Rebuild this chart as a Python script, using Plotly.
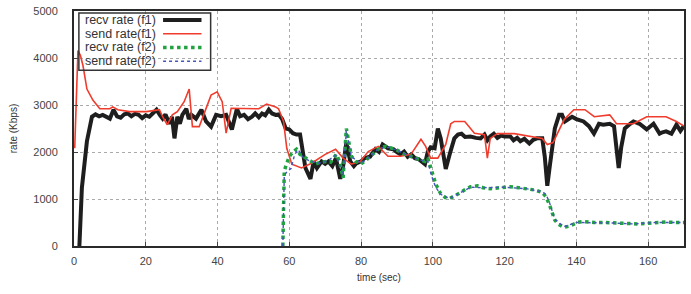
import plotly.graph_objects as go

# recv rate (f1)
t_recv1 = [1.5, 2.2, 3.6, 5, 6, 7, 8, 9, 10, 11, 12, 13, 14, 15, 16, 17, 18, 19, 20, 21, 22, 23, 24, 24.7,
           25.5, 26.6, 27.3, 28, 28.8, 29.5, 30.2, 31.3, 32, 32.7, 34, 35.5, 36.8, 38.2, 39.6, 41, 42.4, 43,
           44, 45.4, 46.3, 47.4, 48.5, 49.6, 50.5, 51.5, 52.4, 53.3, 54.3, 55.2, 56.2, 57, 58, 59, 60, 61, 62,
           63, 64.5, 65.9, 66.8, 67.7, 69, 70, 70.9, 72, 73, 74.2, 75, 75.9, 77, 78, 78.7, 80, 81, 82.5, 84,
           85, 86, 87.5, 89, 90, 91, 92, 93, 94, 95, 96, 96.7, 97.8, 98.6, 99.4, 100.5, 101.4, 102.2, 103.6,
           104.7, 106, 107, 108, 109, 110.5, 112, 113.3, 114.4, 115.2, 116, 117, 118, 119, 120, 121.6, 122.5,
           123.5, 124.4, 125.5, 126.9, 128, 129, 130.5, 131.2, 131.9, 132.6, 133.2, 134, 135.2, 136, 136.8,
           137.8, 138.8, 140, 141, 142, 143.5, 144.9, 146.3, 147.5, 149.3, 150.5, 151.3, 151.8, 152.5, 153.5,
           155, 155.9, 157.6, 159.6, 161.5, 163.2, 164, 165, 166.5, 167.9, 169, 170]
v_recv1 = [0, 1240, 2230, 2750, 2800, 2760, 2790, 2740, 2710, 2900, 2760, 2730, 2800, 2820, 2760, 2810, 2790,
           2720, 2780, 2750, 2840, 2900, 2780, 2710, 2800, 2600, 2750, 2290, 2750, 2600, 2790, 2920, 2700, 2790,
           2710, 2900, 2650, 2540, 2790, 2760, 2790, 2650, 2480, 2920, 2760, 2790, 2700, 2750, 2820, 2740, 2820,
           2780, 2900, 2820, 2790, 2800, 2700, 2500, 2480, 2400, 2370, 2370, 1660, 1430, 1800, 1660, 1800, 1750,
           1800, 1700, 1870, 1430, 1700, 2200, 1800, 1700, 1760, 1800, 1870, 1900, 2060, 2000, 2160, 2080, 2060,
           2000, 1950, 2010, 1900, 1950, 1870, 1850, 1800, 1740, 2010, 2100, 2080, 2500, 2290, 1640, 1950, 2290,
           2370, 2390, 2320, 2330, 2300, 2290, 2370, 2250, 2330, 2390, 2300, 2350, 2330, 2330, 2250, 2300, 2230,
           2280, 2180, 2260, 2290, 2290, 1900, 1280, 1700, 2080, 2500, 2790, 2790, 2650, 2700, 2750, 2700, 2680,
           2650, 2550, 2390, 2600, 2580, 2600, 2550, 2000, 1660, 2100, 2500, 2600, 2650, 2600, 2480, 2600, 2390,
           2420, 2440, 2390, 2580, 2450, 2560]

# send rate(f1)
t_send1 = [0.2, 1.1, 1.8, 2.5, 3.6, 5.3, 7.2, 10, 10.8, 12.2, 15.5, 20.2, 23.8, 24.7, 26, 27.4, 28.8, 30.7,
           32.1, 33, 34.9, 36.3, 38.2, 39.9, 41.3, 42.4, 43.8, 51.5, 53.7, 56.2, 57, 58.4, 59.3, 60.7, 63.4,
           66.2, 70, 72.9, 75, 77.3, 79.8, 82, 84.8, 87.5, 91, 93.9, 96.7, 98, 99.4, 101.4, 103.6, 105, 106,
           108.9, 111.6, 114.4, 115.2, 116, 118, 122.7, 130.5, 131.9, 133.5, 136.6, 139.3, 142.4, 145, 149.3,
           151.2, 155.9, 159.6, 165, 167.9, 170]
v_send1 = [2080, 4160, 4050, 3840, 3340, 3100, 2920, 2920, 2960, 2900, 2860, 2860, 2900, 2750, 2580, 2790,
           2860, 3070, 3340, 2540, 2540, 2820, 3210, 3280, 3070, 2400, 2930, 2920, 3020, 2960, 2920, 2650,
           2080, 1740, 1660, 1760, 1950, 2060, 1870, 1740, 1800, 2010, 2120, 1910, 1910, 1950, 2270, 2120,
           1870, 1870, 2160, 2600, 2650, 2650, 2400, 2370, 1870, 2290, 2390, 2390, 2290, 2160, 2200, 2690,
           2900, 2900, 2750, 2790, 2600, 2600, 2750, 2750, 2650, 2550]

# recv rate (f2)
t_recv2 = [58.2, 58.6, 59.3, 60, 61, 62, 63, 64.5, 66, 67.3, 68.5, 70.4, 71.5, 73.1, 74, 75, 75.9, 77.3,
           78.5, 79.8, 81, 82, 84.8, 86.7, 88, 89.5, 91, 92.2, 94, 95, 96.5, 97.8, 98.6, 99.4, 100.8, 102.2,
           103.5, 104.7, 106, 107.8, 109, 110.5, 112.5, 114, 116, 118, 120, 121.6, 124, 126.3, 128.5, 130.5,
           131.5, 132.4, 133.2, 134, 135, 136.5, 138, 140.2, 142, 144.9, 148, 151.2, 154, 156.8, 159, 162.3,
           165, 167.9, 170]
v_recv2 = [0, 1600, 1760, 1900, 2000, 2060, 1950, 1870, 1800, 1740, 1780, 1800, 1780, 1950, 1800, 1450, 2500,
           1910, 1800, 1740, 1800, 1870, 2060, 2120, 2100, 2060, 2000, 1950, 1900, 1870, 1830, 1800, 1870, 1660,
           1320, 1110, 1030, 1010, 1060, 1140, 1200, 1260, 1280, 1240, 1220, 1230, 1250, 1260, 1240, 1220, 1190,
           1140, 1050, 900, 720, 550, 460, 400, 420, 500, 520, 500, 500, 480, 480, 470, 480, 500, 510, 500, 500]

# send rate(f2)
t_send2 = [58.2, 58.6, 59.5, 60.5, 61.5, 62.5, 64, 66, 68, 70.4, 73, 75, 75.9, 77.3, 80, 82, 85, 88, 91,
           94, 97, 98.6, 99.6, 100.8, 102.2, 104.7, 107.8, 110.5, 114, 120, 126, 130.5, 131.5, 132.4, 134,
           136.5, 140, 145, 150, 156, 162, 170]
v_send2 = [0, 1500, 1600, 1650, 1950, 2050, 1870, 1800, 1760, 1800, 1930, 1500, 2450, 1900, 1760, 1870, 2080,
           2100, 2000, 1900, 1820, 1800, 1500, 1250, 1100, 1010, 1140, 1250, 1240, 1250, 1220, 1150, 1100, 950,
           570, 410, 500, 500, 490, 470, 500, 500]

x_ticks = [0, 20, 40, 60, 80, 100, 120, 140, 160]
y_ticks = [0, 1000, 2000, 3000, 4000, 5000]

legend_names = ["recv rate (f1)", "send rate(f1)", "recv rate (f2)", "send rate(f2)"]
colors = ["#1e1e1e", "#f03c2d", "#1fa23f", "#4455bb"]
widths = [4, 1.6, 3.5, 1.4]
dashes = ["solid", "solid", "dot", "dot"]

series = [(t_recv1, v_recv1), (t_send1, v_send1), (t_recv2, v_recv2), (t_send2, v_send2)]

fig = go.Figure()
for (t, v), name, c, w, d in zip(series, legend_names, colors, widths, dashes):
    fig.add_trace(go.Scatter(x=t, y=v, mode="lines", name=name,
                             line=dict(color=c, width=w, dash=d), showlegend=False))

font_family = "Liberation Sans, Arial, sans-serif"
axis_common = dict(showgrid=True, gridcolor="#aaaaaa", griddash="dot", gridwidth=1,
                   showline=True, linecolor="#2a2a2a", linewidth=2, mirror=True,
                   ticks="inside", ticklen=4, tickcolor="#444444", zeroline=False,
                   tickfont=dict(family=font_family, size=11, color="#444444"))

fig.update_layout(
    width=691, height=294,
    margin=dict(l=74, r=5, t=8, b=48),
    paper_bgcolor="white", plot_bgcolor="white",
    xaxis=dict(range=[0, 170], tickvals=x_ticks, ticklabelstandoff=4,
               title=dict(text="time (sec)", font=dict(family=font_family, size=10, color="#333333"),
                          standoff=8), **axis_common),
    yaxis=dict(range=[0, 5000], tickvals=y_ticks, ticklabelstandoff=12,
               title=dict(text="rate (Kbps)", font=dict(family=font_family, size=10, color="#333333"),
                          standoff=14), **axis_common),
)

# legend box (transparent, drawn like gnuplot key)
fig.add_shape(type="rect", xref="paper", yref="paper", x0=0.008, x1=0.224, y0=0.748, y1=0.992,
              line=dict(color="#333333", width=1.5), fillcolor="rgba(0,0,0,0)", layer="above")
row_y = [0.962, 0.903, 0.845, 0.786]
for name, c, w, d, yy in zip(legend_names, colors, widths, dashes, row_y):
    fig.add_annotation(x=0.137, y=yy, xref="paper", yref="paper", text=name, showarrow=False,
                       xanchor="right", yanchor="middle",
                       font=dict(family=font_family, size=12.5, color="#333333"))
    fig.add_shape(type="line", xref="paper", yref="paper", x0=0.146, x1=0.209, y0=yy, y1=yy,
                  line=dict(color=c, width=w, dash=d), layer="above")

fig.write_html("out.html")
